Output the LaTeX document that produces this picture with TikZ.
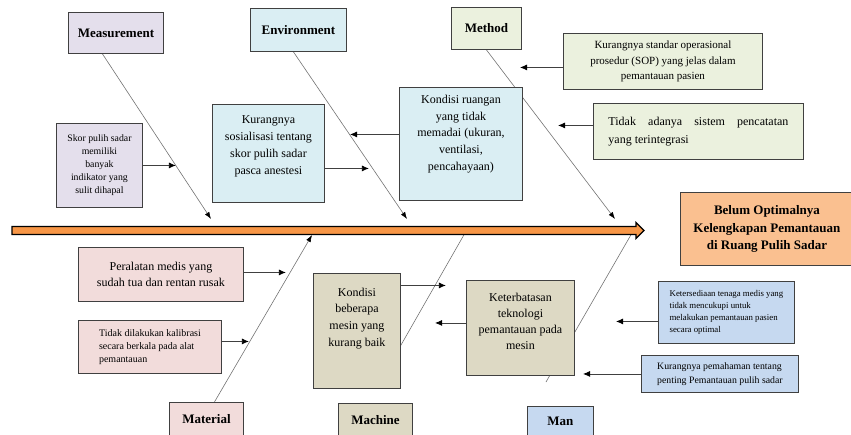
\documentclass[tikz,border=0pt]{standalone}
\usepackage{fontspec}
\setmainfont{Liberation Serif}
\usetikzlibrary{arrows.meta, backgrounds}

\definecolor{measfill}{HTML}{E4DFEC}
\definecolor{envfill}{HTML}{DAEEF3}
\definecolor{methfill}{HTML}{EBF1DE}
\definecolor{matfill}{HTML}{F2DCDB}
\definecolor{machfill}{HTML}{DDD9C4}
\definecolor{manfill}{HTML}{C6D9F0}
\definecolor{efffill}{HTML}{FAC090}
\definecolor{spine}{HTML}{F79646}

\begin{document}
\begin{tikzpicture}[x=1pt, y=-1pt,
    box/.style={draw=black!75, line width=0.9pt, anchor=north west,
        align=center, inner sep=3pt},
    cat/.style={box, font=\fontsize{13}{15}\selectfont\bfseries},
    big/.style={font=\fontsize{12}{16.7}\selectfont},
    bone/.style={draw=black!55, line width=0.6pt},
    bonetip/.style={bone, -{Latex[length=7pt, width=5pt, color=black]}},
    ptr/.style={draw=black!75, line width=0.8pt, -{Latex[length=7pt, width=6pt, color=black]}},
  ]
  \useasboundingbox (0,0) rectangle (851,434);

  % Categories
  \node[cat, fill=measfill, minimum width=95pt, minimum height=41pt] (meas) at (68,12) {Measurement};
  \node[cat, fill=envfill, minimum width=96pt, minimum height=43pt] (env) at (250,8) {Environment};
  \node[cat, fill=methfill, minimum width=70pt, minimum height=42pt] (meth) at (451,7) {Method};
  \node[cat, fill=matfill, minimum width=74pt, minimum height=34pt] (mat) at (169,402) {Material};
  \node[cat, fill=machfill, minimum width=74pt, minimum height=34pt] (mach) at (338,403) {Machine};
  \node[cat, fill=manfill, minimum width=66pt, minimum height=30pt] (man) at (527,406) {Man};

  % Effect
  \node[cat, fill=efffill, minimum width=173pt, minimum height=73pt, font=\fontsize{13}{17.7}\selectfont\bfseries]
    (eff) at (680,192) {Belum Optimalnya\\ Kelengkapan Pemantauan\\ di Ruang Pulih Sadar};

  % Causes, upper half
  \node[box, fill=measfill, minimum width=86pt, minimum height=84pt, font=\fontsize{9.8}{13}\selectfont]
    (skor) at (56,123) {Skor pulih sadar\\ memiliki\\ banyak\\ indikator yang\\ sulit dihapal};
  \node[box, big, fill=envfill, minimum width=112pt, minimum height=98pt]
    (sos) at (212,104) {Kurangnya\\ sosialisasi tentang\\ skor pulih sadar\\ pasca anestesi\\ \mbox{}};
  \node[box, big, fill=envfill, minimum width=123pt, minimum height=113pt]
    (kr) at (399,87) {Kondisi ruangan\\ yang tidak\\ memadai (ukuran,\\ ventilasi,\\ pencahayaan)\\[6pt] \mbox{}};
  \node[box, fill=methfill, minimum width=199pt, minimum height=56pt, font=\fontsize{11}{15.7}\selectfont]
    (sop) at (563,33) {Kurangnya standar operasional\\ prosedur (SOP) yang jelas dalam\\ pemantauan pasien};
  \node[box, big, fill=methfill, minimum width=210pt, minimum height=56pt, text width=180pt,
    align=justify, font=\fontsize{12}{17.7}\selectfont]
    (tid) at (593,103) {\leftskip=9pt Tidak adanya sistem pencatatan\linebreak yang terintegrasi};

  % Causes, lower half
  \node[box, big, fill=matfill, minimum width=165pt, minimum height=54pt]
    (per) at (78,247) {Peralatan medis yang\\ sudah tua dan rentan rusak};
  \node[box, fill=matfill, minimum width=143pt, minimum height=53pt, align=left,
    font=\fontsize{10}{13.3}\selectfont]
    (kal) at (78,320) {Tidak dilakukan kalibrasi\\ secara berkala pada alat\\ pemantauan};
  \node[box, big, fill=machfill, minimum width=87pt, minimum height=115pt]
    (kb) at (313,273) {Kondisi\\ beberapa\\ mesin yang\\ kurang baik\\[11pt] \mbox{}};
  \node[box, fill=machfill, minimum width=108pt, minimum height=95pt, font=\fontsize{12}{16}\selectfont]
    (ket) at (466,280) {Keterbatasan\\ teknologi\\ pemantauan pada\\ mesin\\[-2.7pt] \mbox{}};
  \node[box, fill=manfill, minimum width=136pt, minimum height=62pt, align=left,
    font=\fontsize{8.8}{12.2}\selectfont]
    (kts) at (658,281) {Ketersediaan tenaga medis yang\\ tidak mencukupi untuk\\ melakukan pemantauan pasien\\ secara optimal};
  \node[box, fill=manfill, minimum width=157pt, minimum height=37pt, align=left,
    font=\fontsize{9.8}{14}\selectfont]
    (pem) at (641,355) {Kurangnya pemahaman tentang\\ penting Pemantauan pulih sadar};

  % Bones and spine, behind the boxes
  \begin{scope}[on background layer]
    \coordinate (tipM) at (211,219);
    \coordinate (tipE) at (407,219);
    \coordinate (tipT) at (615,219);
    \coordinate (tipA) at (312,235);
    \coordinate (tipC) at (465,233);
    \coordinate (tipN) at (632,233);
    \coordinate (machFoot) at (381,380);
    \coordinate (manFoot) at (546,382);

    \draw[bonetip] ([xshift=-13.5pt]meas.south) -- (tipM);
    \draw[bonetip] ([xshift=-5pt]env.south) -- (tipE);
    \draw[bonetip] (meth.south) -- (tipT);
    \draw[bonetip] ([xshift=8pt]mat.north) -- (tipA);
    \draw[bone] (machFoot) -- (tipC);
    \draw[bone] (manFoot) -- (tipN);

    \draw[line width=1.1pt, fill=spine, line join=miter]
      (12,226.5) -- (636,226.5) -- (636,222.5) -- (644,230.5)
      -- (636,238.5) -- (636,234.5) -- (12,234.5) -- cycle;
  \end{scope}

  % Cause arrows
  \foreach \src/\dy/\len in {skor.east/0/33, sos.east/-15/44, kr.west/9.5/-49,
      sop.west/-6/-43, tid.west/6/-35, per.east/2/42, kal.east/5.5/27,
      kb.east/45.5/45, ket.west/5/-31, kts.west/-9/-42, pem.west/0/-58}{
    \draw[ptr] ([yshift=\dy pt]\src) -- ++(\len,0);
  }
\end{tikzpicture}
\end{document}
